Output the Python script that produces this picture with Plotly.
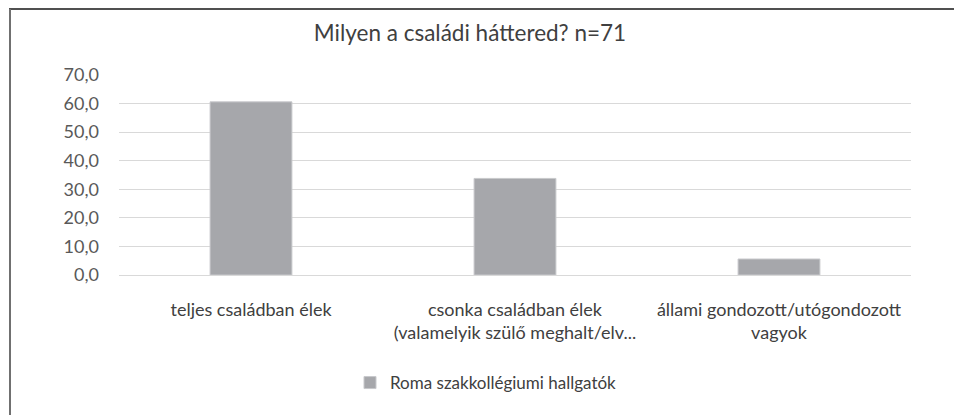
import plotly.graph_objects as go

categories = [
    "teljes családban élek",
    "csonka családban élek<br>(valamelyik szülő meghalt/elv...",
    "állami gondozott/utógondozott<br>vagyok",
]
values = [60.6, 33.8, 5.6]
series_name = "Roma szakkollégiumi hallgatók"
tick_vals = [0, 10, 20, 30, 40, 50, 60, 70]
tick_text = ["0,0", "10,0", "20,0", "30,0", "40,0", "50,0", "60,0", "70,0"]

W, H = 954, 415
L, R, T, B = 119, 43, 75, 140
pw, ph = W - L - R, H - T - B

def px_x(x):
    return (x - L) / pw

def px_y(y):
    return (H - B - y) / ph

fig = go.Figure()
fig.add_trace(go.Bar(
    x=categories, y=values, name=series_name,
    marker=dict(color="#a6a7ab", line=dict(color="#c8c9cc", width=1)),
    width=0.31, showlegend=True,
))

fig.update_layout(
    width=W, height=H,
    margin=dict(l=L, r=R, t=T, b=B),
    paper_bgcolor="white", plot_bgcolor="white",
    font=dict(family="Lato, Open Sans, sans-serif", color="#595959", size=18),
    title=dict(text="Milyen a családi háttered? n=71", x=470 / W, xref="container",
               y=1 - 33 / H, yref="container", xanchor="center", yanchor="middle",
               font=dict(size=22.5, color="#404040")),
    showlegend=True,
    legend=dict(orientation="h", x=486 / W, xref="container", xanchor="center",
                y=1 - 383 / H, yref="container", yanchor="middle",
                itemwidth=30,
                font=dict(size=17, color="#404040")),
    xaxis=dict(showline=False, ticks="", tickfont=dict(size=18, color="#404040"),
               ticklabelstandoff=22),
    yaxis=dict(range=[0, 70], tickvals=tick_vals, ticktext=tick_text,
               showgrid=True, gridcolor="#d9d9d9", gridwidth=1, zeroline=True,
               zerolinecolor="#d9d9d9", zerolinewidth=1, showline=False, ticks="",
               tickfont=dict(size=18, color="#595959"), ticklabelstandoff=19),
    bargap=0.69,
    shapes=[
        dict(type="line", xref="paper", yref="paper", x0=px_x(9), x1=px_x(W),
             y0=px_y(9), y1=px_y(9), line=dict(color="#505050", width=2)),
        dict(type="line", xref="paper", yref="paper", x0=px_x(10), x1=px_x(10),
             y0=px_y(9), y1=px_y(H), line=dict(color="#707070", width=2)),
    ],
)

fig.write_html(
    "out.html",
    config={"displayModeBar": False},
    post_script=(
        "document.body.style.margin='0';"
        "document.body.style.overflow='hidden';"
        "document.documentElement.style.overflow='hidden';"
    ),
)
